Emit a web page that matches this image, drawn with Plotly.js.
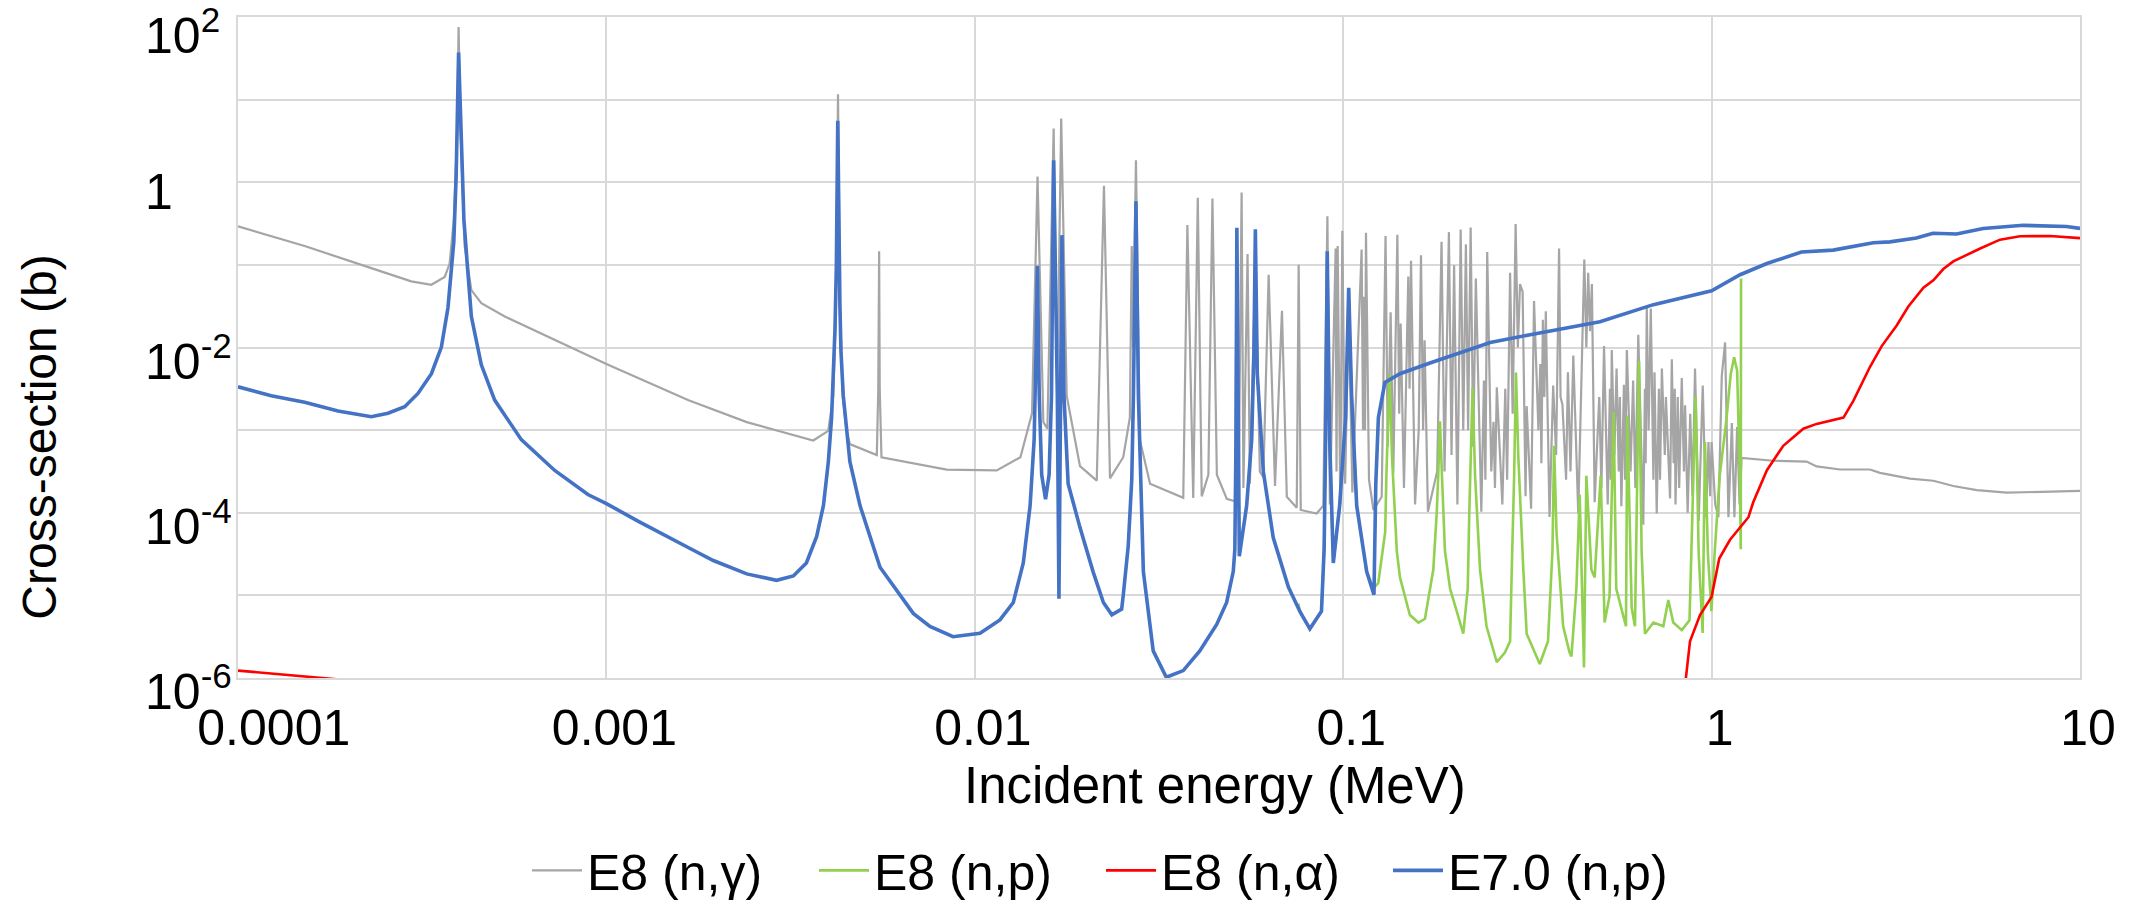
<!DOCTYPE html>
<html><head><meta charset="utf-8">
<script src="https://cdn.plot.ly/plotly-3.0.1.min.js"></script>
<style>html,body{margin:0;padding:0;background:#fff}</style>
</head><body><div id="chart" style="width:2138px;height:900px"></div>
<script>
// E8 (n,gamma)
const gammaE = [1.0e-4,1.517e-4,2.30e-4,2.954e-4,3.348e-4,3.64e-4,3.753e-4,3.853e-4,3.936e-4,3.97e-4,4.02e-4,4.123e-4,4.30e-4,4.576e-4,5.30e-4,1.0e-3,1.665e-3,2.404e-3,3.643e-3,4.0e-3,4.13e-3,4.198e-3,4.253e-3,4.305e-3,4.378e-3,4.487e-3,4.58e-3,5.42e-3,5.47e-3,5.50e-3,5.52e-3,5.58e-3,8.39e-3,1.147e-2,1.33e-2,1.43e-2,1.48e-2,1.535e-2,1.574e-2,1.637e-2,1.674e-2,1.716e-2,1.776e-2,1.93e-2,2.143e-2,2.242e-2,2.328e-2,2.529e-2,2.636e-2,2.667e-2,2.69e-2,2.738e-2,2.805e-2,2.99e-2,3.68e-2,3.776e-2,3.917e-2,4.03e-2,4.13e-2,4.305e-2,4.416e-2,4.54e-2,4.83e-2,5.085e-2,5.145e-2,5.2e-2,5.30e-2,5.36e-2,5.50e-2,5.58e-2,5.775e-2,5.94e-2,6.07e-2,6.275e-2,6.53e-2,6.82e-2,7.03e-2,7.48e-2,7.57e-2,7.67e-2,8.47e-2,8.83e-2,9.06e-2,9.20e-2,9.54e-2,9.59e-2,9.66e-2,9.82e-2,9.945e-2,0.1012,0.1035,0.1059,0.1122,0.1132,0.1139,0.1146,0.1153,0.1175,0.1208,0.1272,0.1303,0.1321,0.1345,0.1368,0.1403,0.1419,0.1432,0.1462,0.1502,0.1514,0.1528,0.1567,0.1603,0.1626,0.1648,0.1663,0.1698,0.1799,0.1849,0.1884,0.1936,0.1968,0.20,0.2042,0.2084,0.2118,0.2153,0.2183,0.2218,0.2254,0.2291,0.2371,0.241,0.2432,0.246,0.2523,0.2559,0.2582,0.2612,0.2704,0.2754,0.2786,0.2838,0.2884,0.2938,0.2979,0.302,0.3069,0.3126,0.3148,0.3236,0.3296,0.3388,0.3428,0.3451,0.3483,0.3516,0.3548,0.3631,0.3715,0.3784,0.3855,0.389,0.3936,0.4027,0.4074,0.414,0.4213,0.4345,0.4513,0.4571,0.4624,0.4677,0.4732,0.4815,0.4955,0.5023,0.5105,0.5224,0.5297,0.5321,0.5358,0.5445,0.5521,0.5598,0.5636,0.5689,0.5781,0.5821,0.5888,0.6026,0.6124,0.6209,0.6324,0.6525,0.6592,0.6622,0.6668,0.6745,0.6839,0.695,0.6998,0.7096,0.7194,0.7244,0.7328,0.7464,0.7516,0.7714,0.7798,0.7889,0.7943,0.798,0.8091,0.8166,0.8299,0.8414,0.8472,0.861,0.875,0.8872,0.9016,0.9226,0.9462,0.966,0.9806,0.991,1.0,1.023,1.0435,1.0656,1.088,1.111,1.135,1.153,1.173,1.191,1.206,1.471,1.811,1.928,2.231,2.692,2.864,3.456,3.999,4.529,5.248,6.324,10];
const gammaXS = [0.293,0.169,0.0914,0.0632,0.0574,0.0714,0.103,0.3516,4.08,75.5,4.08,0.169,0.0494,0.0343,0.0237,6.31e-3,2.31e-3,1.25e-3,7.48e-4,9.79e-4,2.61e-3,3.03e-2,11.6,3.03e-2,2.61e-3,9.79e-4,6.78e-4,4.99e-4,3.16e-3,0.146,3.16e-3,4.70e-4,3.33e-4,3.25e-4,4.70e-4,1.60e-3,1.17,1.25e-3,1.04e-3,4.46,2.95e-3,5.90,2.61e-3,3.67e-4,2.45e-4,0.906,2.61e-4,4.70e-4,1.42e-3,0.169,1e-2,1.84,7.67e-4,2.25e-4,1.52e-4,0.303,1.51e-4,0.649,1.58e-4,2.88e-4,0.634,2.88e-4,1.47e-4,1.38e-4,0.25,1.58e-4,0.753,2.0e-4,0.1355,2.25e-4,0.1,3.16e-4,2.70e-4,7.60e-2,2.11e-4,2.78e-2,1.56e-4,1.15e-4,0.1,1.08e-4,9.77e-5,1.22e-4,0.388,1.26e-4,0.158,3.16e-4,0.169,1.26e-4,0.259,2.25e-4,3.16e-2,1.76e-4,0.153,1e-3,4.12e-2,1e-3,0.244,2.51e-4,1.08e-4,1.56e-4,0.223,6.31e-4,2.67e-2,3.06e-4,0.231,1.58e-3,1.95e-2,2.0e-4,7.24e-2,3.16e-3,0.1125,1.26e-4,1e-3,0.131,1e-3,1.22e-2,1.03e-4,3.16e-4,0.190,3.16e-4,0.249,5.01e-4,9.9e-2,1.26e-4,0.268,1e-3,0.177,1e-3,0.2825,6.31e-4,6.85e-2,1.03e-4,3.98e-3,2.51e-4,0.143,3.16e-4,1.26e-3,2.0e-4,3.29e-3,1.26e-4,3.16e-3,2.51e-4,8.02e-2,1.58e-3,0.313,1e-2,5.87e-2,4.75e-2,1.58e-4,1.95e-3,1.12e-4,3.66e-2,1e-3,6.31e-3,3.98e-4,2.17e-2,2.51e-3,2.74e-2,8.91e-5,3.47e-3,5.01e-4,0.158,2.51e-3,2.04e-3,2.51e-4,5.01e-3,3.16e-4,8.02e-3,9.82e-5,0.1159,1e-2,8.02e-2,1.58e-2,5.87e-2,1.34e-4,2.51e-3,2.0e-4,1.04e-2,1.26e-4,3.16e-3,2.51e-4,9.35e-3,5.01e-4,5.55e-3,3.16e-4,2.51e-3,1.20e-4,3.55e-3,2.51e-4,9.35e-3,3.16e-4,3.98e-3,2.0e-4,1.43e-2,7.18e-5,3.16e-3,3.98e-4,3.13e-2,1e-3,2.96e-2,2.51e-4,5.01e-3,9.82e-5,3.16e-3,2.51e-4,5.55e-3,5.01e-4,2.51e-3,1.49e-4,7.21e-3,3.98e-4,3.16e-3,1.26e-4,2.51e-3,2.0e-4,4.27e-3,3.16e-4,2.0e-3,1e-4,1.58e-3,1.58e-4,5.55e-3,7.94e-5,3.47e-3,8.91e-5,7.18e-4,1.58e-4,7.18e-4,1.26e-4,8.83e-5,4.50e-3,1.15e-2,8.83e-5,1.22e-3,8.83e-5,1.09e-3,1.26e-4,4.62e-4,4.26e-4,4.16e-4,3.64e-4,3.34e-4,3.34e-4,3.04e-4,2.59e-4,2.44e-4,2.11e-4,1.88e-4,1.75e-4,1.84e-4];

// E8 (n,p)
const npE = [7.55e-2,7.64e-2,8.12e-2,8.73e-2,8.875e-2,8.96e-2,9.05e-2,9.19e-2,9.40e-2,9.78e-2,0.1015,0.1035,0.1054,0.1088,0.1158,0.1208,0.1245,0.13,0.131,0.1335,0.1357,0.1398,0.1426,0.1517,0.16,0.1667,0.1756,0.1794,0.1811,0.1831,0.1854,0.1889,0.195,0.2118,0.2178,0.2199,0.2245,0.228,0.2352,0.2449,0.2612,0.2748,0.2838,0.2871,0.2911,0.2944,0.2988,0.3083,0.3148,0.3416,0.3597,0.3698,0.3737,0.3793,0.3954,0.4116,0.4164,0.4295,0.4385,0.4504,0.4571,0.4717,0.4815,0.5,0.5124,0.5284,0.542,0.551,0.5856,0.5904,0.6068,0.6194,0.6353,0.6457,0.6592,0.695,0.7396,0.7629,0.787,0.8299,0.871,0.9047,0.9226,0.9456,0.9594,0.9772,0.9989,1.02,1.052,1.097,1.127,1.151,1.173,1.193,1.2,1.202];
const npXS = [7.94e-6,6.31e-6,3.94e-6,6.43e-6,3.58e-5,7.67e-4,0.126,7.67e-4,2.47e-5,1.22e-4,1.42e-3,4.47e-2,2.61e-3,1.22e-4,1.94e-5,1.21e-5,1.41e-5,5.81e-5,2.80e-4,4.74e-3,4.73e-4,3.44e-5,1.65e-5,5.79e-6,4.69e-6,5.21e-6,2.04e-5,9.82e-5,2.80e-4,1.28e-3,2.80e-4,3.44e-5,1.21e-5,3.44e-6,1.21e-5,9.82e-5,3.29e-3,2.80e-4,2.04e-5,4.23e-6,1.56e-6,2.03e-6,2.78e-6,2.51e-5,2.80e-4,4.99e-3,4.73e-4,2.04e-5,3.44e-6,1.48e-6,2.78e-6,3.44e-5,6.47e-4,5.81e-5,4.23e-6,2.03e-6,1.83e-6,1.21e-5,1.66e-4,1.34e-6,2.80e-4,2.04e-5,1.65e-5,2.80e-4,4.69e-6,9.77e-6,1.66e-3,1.21e-5,4.23e-6,1.50e-3,7.11e-6,4.23e-6,6.84e-3,3.44e-5,3.44e-6,4.69e-6,4.23e-6,8.81e-6,4.69e-6,3.80e-6,5.01e-6,2.53e-3,3.16e-5,3.50e-6,7.18e-4,3.16e-5,6.43e-6,3.44e-5,2.80e-4,1.35e-3,4.74e-3,7.60e-3,5.26e-3,2.80e-4,3.62e-5,6.85e-2];

// E8 (n,alpha)
const naE = [1.0e-4,1.866e-4,3.16e-4,null,0.8414,0.851,0.8737,0.9301,1.0,1.049,1.122,1.259,1.297,1.413,1.565,1.774,1.928,2.28,2.427,2.692,2.896,3.18,3.42,3.758,3.999,4.256,4.529,5.358,6.067,6.871,8.299,10];
const naXS = [1.23e-6,9.62e-7,7.94e-7,null,7.94e-7,9.75e-7,2.78e-6,5.79e-6,9.6e-6,2.79e-5,4.71e-5,8.83e-5,1.34e-4,3.27e-4,6.47e-4,1.04e-3,1.19e-3,1.42e-3,2.28e-3,5.85e-3,1.04e-2,1.85e-2,3.13e-2,5.28e-2,6.50e-2,8.91e-2,0.11,0.158,0.202,0.222,0.224,0.211];

// E7.0 (n,p)
const e7E = [1.0e-4,1.231e-4,1.517e-4,1.868e-4,2.30e-4,2.553e-4,2.835e-4,3.08e-4,3.35e-4,3.565e-4,3.715e-4,3.853e-4,3.91e-4,3.97e-4,4.104e-4,4.19e-4,4.30e-4,4.576e-4,4.974e-4,5.875e-4,7.24e-4,8.91e-4,1.0e-3,1.218e-3,1.667e-3,1.951e-3,2.404e-3,2.897e-3,3.217e-3,3.49e-3,3.722e-3,3.882e-3,4.004e-3,4.086e-3,4.173e-3,4.21e-3,4.246e-3,4.305e-3,4.333e-3,4.395e-3,4.581e-3,4.88e-3,5.53e-3,6.808e-3,7.557e-3,8.73e-3,1.033e-2,1.17e-2,1.272e-2,1.354e-2,1.413e-2,1.449e-2,1.466e-2,1.479e-2,1.496e-2,1.519e-2,1.556e-2,1.591e-2,1.615e-2,1.637e-2,1.675e-2,1.692e-2,1.724e-2,1.746e-2,1.792e-2,1.93e-2,2.094e-2,2.234e-2,2.355e-2,2.504e-2,2.529e-2,2.609e-2,2.667e-2,2.695e-2,2.738e-2,2.78e-2,2.868e-2,3.05e-2,3.31e-2,3.68e-2,4.08e-2,4.535e-2,4.826e-2,5.03e-2,5.08e-2,5.117e-2,5.145e-2,5.224e-2,5.47e-2,5.644e-2,5.724e-2,5.775e-2,5.845e-2,6.07e-2,6.457e-2,7.1e-2,7.64e-2,8.12e-2,8.73e-2,8.875e-2,8.96e-2,9.05e-2,9.19e-2,9.40e-2,9.78e-2,0.1015,0.1035,0.1054,0.1088,0.1158,0.1212,0.1226,0.1246,0.1298,0.1426,0.172,0.2506,0.3218,0.4977,0.695,1.0,1.195,1.413,1.754,2.138,2.748,3.048,3.597,3.99,4.624,5.458,7.015,9.18,10];
const e7XS = [3.34e-3,2.61e-3,2.17e-3,1.70e-3,1.45e-3,1.60e-3,1.92e-3,2.78e-3,4.82e-3,1.01e-2,3.03e-2,0.1905,1.2,37.1,0.3516,0.103,2.37e-2,6.17e-3,2.31e-3,7.67e-4,3.25e-4,1.66e-4,1.29e-4,7.93e-5,3.80e-5,2.64e-5,1.82e-5,1.52e-5,1.72e-5,2.47e-5,5.16e-5,1.22e-4,4.16e-4,1.42e-3,1.644e-2,0.103,5.55,3.03e-2,8.91e-3,2.61e-3,4.16e-4,1.22e-4,2.19e-5,6.05e-6,4.20e-6,3.16e-6,3.48e-6,5.04e-6,8.20e-6,2.47e-5,1.22e-4,7.67e-4,8.91e-3,9.73e-2,2.61e-3,2.88e-4,1.46e-4,2.88e-4,2.61e-3,1.84,2.61e-3,9.08e-6,0.229,2.61e-3,2.25e-4,6.61e-5,1.94e-5,8.20e-6,5.83e-6,6.82e-6,1.0e-5,3.98e-5,2.51e-4,2.61e-3,0.589,2.61e-3,1.94e-5,2.13e-6,1.02e-6,1.23e-6,2.13e-6,4.45e-6,8.20e-6,1.94e-5,3.58e-5,7.67e-4,0.282,2.97e-5,1.22e-4,7.67e-4,8.91e-3,0.269,4.82e-3,3.16e-4,5.01e-5,1.26e-5,6.31e-6,3.94e-6,6.43e-6,3.58e-5,7.67e-4,0.146,7.67e-4,2.47e-5,1.22e-4,1.42e-3,5.27e-2,2.61e-3,1.22e-4,1.94e-5,1.02e-5,2.25e-4,1.42e-3,3.78e-3,4.82e-3,6.49e-3,1.15e-2,1.43e-2,2.05e-2,3.30e-2,4.85e-2,7.60e-2,0.104,0.143,0.151,0.185,0.190,0.211,0.241,0.236,0.276,0.301,0.291,0.276];

const seriesNames = ['E8 (n,γ)', 'E8 (n,p)', 'E8 (n,α)', 'E7.0 (n,p)'];
const xTickVals = [1e-4, 1e-3, 1e-2, 0.1, 1, 10];
const xTickText = ['&nbsp;&nbsp;&nbsp;&nbsp;0.0001', '0.001', '0.01', '0.1', '1', '10'];
const yGridVals = [1e-6, 1e-5, 1e-4, 1e-3, 1e-2, 1e-1, 1, 10, 100];
const yLabelVals = [100, 1, 1e-2, 1e-4, 1e-6];
const yLabelText = ['10<sup>2</sup>', '1', '10<sup>-2</sup>', '10<sup>-4</sup>', '10<sup>-6</sup>'];
const xTitle = 'Incident energy (MeV)';
const yTitle = 'Cross-section (b)';

const FONT = 'Liberation Sans, Arial, sans-serif';
const mk = (x, y, name, color, width) => ({
  x: x, y: y, name: name, type: 'scatter', mode: 'lines',
  line: {color: color, width: width, simplify: false}, connectgaps: false
});
const traces = [
  mk(gammaE, gammaXS, seriesNames[0], '#A5A5A5', 2.2),
  mk(npE, npXS, seriesNames[1], '#92D050', 2.6),
  mk(naE, naXS, seriesNames[2], '#FF0000', 2.6),
  mk(e7E, e7XS, seriesNames[3], '#4472C4', 3.6)
];

const annotations = yLabelVals.map((v, i) => ({
  xref: 'paper', yref: 'y', x: 0, y: Math.log10(v), xshift: -95, yshift: i === 0 ? -15 : -10,
  xanchor: 'left', yanchor: 'middle', showarrow: false,
  text: yLabelText[i], font: {family: FONT, size: 50, color: '#000'}
}));
annotations.push({
  xref: 'paper', yref: 'paper', x: (1215 - 238) / 1842, y: (678.5 - 786) / 661.5,
  xanchor: 'center', yanchor: 'middle', showarrow: false,
  text: xTitle, font: {family: FONT, size: 51, color: '#000'}
});
annotations.push({
  xref: 'paper', yref: 'paper', x: (40 - 238) / 1842, y: (678.5 - 438) / 661.5,
  xanchor: 'center', yanchor: 'middle', showarrow: false, textangle: -90,
  text: yTitle, font: {family: FONT, size: 48, color: '#000'}
});

const layout = {
  width: 2138, height: 900,
  margin: {l: 238, r: 58, t: 17, b: 221.5, pad: 0, autoexpand: false},
  paper_bgcolor: '#fff', plot_bgcolor: '#fff',
  font: {family: FONT, size: 50, color: '#000'},
  showlegend: true,
  legend: {
    orientation: 'h', x: (527 - 238) / 1842, xanchor: 'left',
    y: (678.5 - 871) / 661.5, yanchor: 'middle',
    font: {family: FONT, size: 50, color: '#000'}, itemwidth: 50,
    entrywidth: 222, entrywidthmode: 'pixels',
    traceorder: 'normal', bgcolor: 'rgba(0,0,0,0)'
  },
  xaxis: {
    type: 'log', range: [-4, 1], tickmode: 'array', tickvals: xTickVals, ticktext: xTickText,
    showgrid: true, gridcolor: '#d9d9d9', gridwidth: 2, zeroline: false,
    showline: true, mirror: true, linecolor: '#d9d9d9', linewidth: 2,
    ticks: '', ticklabelstandoff: 5, ticklabelshift: 8, automargin: false,
    tickfont: {family: FONT, size: 50, color: '#000'}
  },
  yaxis: {
    type: 'log', range: [-6, 2], tickmode: 'array', tickvals: yGridVals,
    showticklabels: false, showgrid: true, gridcolor: '#d9d9d9', gridwidth: 2, zeroline: false,
    showline: true, mirror: true, linecolor: '#d9d9d9', linewidth: 2, ticks: '', automargin: false
  },
  annotations: annotations
};
Plotly.newPlot('chart', traces, layout, {displayModeBar: false, staticPlot: true});
</script></body></html>
